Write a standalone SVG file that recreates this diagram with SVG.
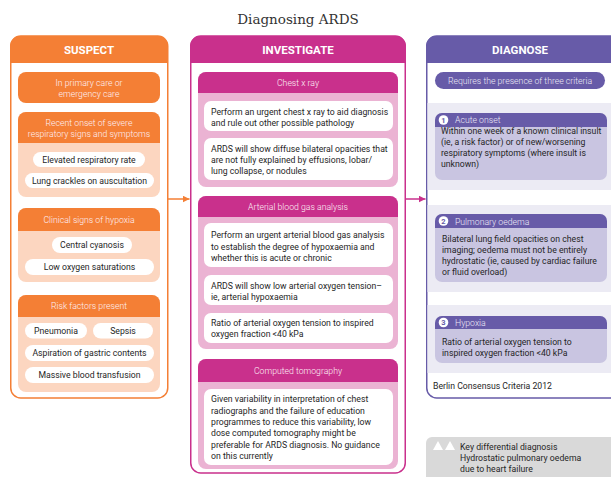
<svg xmlns="http://www.w3.org/2000/svg" width="611" height="477" viewBox="0 0 611 477">
<defs>
<style>
.t{font-family:Roboto,"Noto Sans",sans-serif;font-size:8.7px;fill:#262626}
.c{text-anchor:middle}
.hd{font-family:Roboto,"Noto Sans",sans-serif;font-size:11.5px;font-weight:bold;fill:#fff;text-anchor:middle}
.wt{font-family:Roboto,"Noto Sans",sans-serif;font-size:8.7px;fill:#fdf0f6;font-weight:300}
.pill{fill:#fff}
</style>
<marker id="ao" viewBox="0 0 10 10" refX="10" refY="5" markerWidth="7" markerHeight="7" markerUnits="userSpaceOnUse" orient="auto"><path d="M0,0L10,5L0,10z" fill="#f47f35"/></marker>
<marker id="ap" viewBox="0 0 10 10" refX="10" refY="5" markerWidth="7" markerHeight="7" markerUnits="userSpaceOnUse" orient="auto"><path d="M0,0L10,5L0,10z" fill="#c9308c"/></marker>
</defs>
<rect width="611" height="477" fill="#fff"/>
<text x="298" y="24" font-family="'DejaVu Serif',serif" font-size="13.5" fill="#333" text-anchor="middle">Diagnosing ARDS</text>

<g id="suspect">
<rect x="10.75" y="36" width="157" height="362" rx="10" fill="#fff" stroke="#f47f35" stroke-width="1.5"/>
<path d="M10,63V46a10,10 0 0 1 10,-10H158a10,10 0 0 1 10,10V63z" fill="#f47f35"/>
<text class="hd" x="89" y="53.5">SUSPECT</text>
<rect x="18" y="72" width="142" height="31" rx="8" fill="#f47f35"/>
<text class="wt c" x="89" y="86">In primary care  or</text>
<text class="wt c" x="89" y="96.5">emergency care</text>
<rect x="18" y="112" width="142" height="85" rx="8" fill="#fcd6c0"/>
<path d="M18,143V120a8,8 0 0 1 8,-8H152a8,8 0 0 1 8,8V143z" fill="#f47f35"/>
<text class="wt c" x="89" y="125.5">Recent onset of severe</text>
<text class="wt c" x="89" y="136.5">respiratory signs and symptoms</text>
<rect class="pill" x="33" y="152" width="112" height="15" rx="7.5"/>
<text class="t c" x="89" y="162.5">Elevated respiratory rate</text>
<rect class="pill" x="25" y="173" width="129" height="15" rx="7.5"/>
<text class="t c" x="89.5" y="183.5">Lung crackles on auscultation</text>
<rect x="18" y="208" width="142" height="74" rx="8" fill="#fcd6c0"/>
<path d="M18,231V216a8,8 0 0 1 8,-8H152a8,8 0 0 1 8,8V231z" fill="#f47f35"/>
<text class="wt c" x="89" y="222.5">Clinical signs of hypoxia</text>
<rect class="pill" x="52" y="237" width="80" height="16" rx="8"/>
<text class="t c" x="92" y="248">Central cyanosis</text>
<rect class="pill" x="25" y="259" width="129" height="16" rx="8"/>
<text class="t c" x="89.5" y="270">Low oxygen saturations</text>
<rect x="18" y="295" width="142" height="97" rx="8" fill="#fcd6c0"/>
<path d="M18,317V303a8,8 0 0 1 8,-8H152a8,8 0 0 1 8,8V317z" fill="#f47f35"/>
<text class="wt c" x="89" y="309">Risk factors present</text>
<rect class="pill" x="25" y="323" width="62" height="15.5" rx="7.75"/>
<text class="t c" x="56" y="333.5">Pneumonia</text>
<rect class="pill" x="93" y="323" width="60" height="15.5" rx="7.75"/>
<text class="t c" x="123" y="333.5">Sepsis</text>
<rect class="pill" x="25" y="345" width="129" height="16" rx="8"/>
<text class="t c" x="89.5" y="356">Aspiration of gastric contents</text>
<rect class="pill" x="25" y="367" width="129" height="16" rx="8"/>
<text class="t c" x="89.5" y="378">Massive blood transfusion</text>
</g>

<g id="investigate">
<rect x="190.75" y="36" width="214.5" height="437" rx="10" fill="#fff" stroke="#c9308c" stroke-width="1.5"/>
<path d="M190,63V46a10,10 0 0 1 10,-10H396a10,10 0 0 1 10,10V63z" fill="#c9308c"/>
<text class="hd" x="298" y="53.5">INVESTIGATE</text>
<rect x="198" y="72" width="200" height="115" rx="8" fill="#ebb3d3"/>
<path d="M198,93V80a8,8 0 0 1 8,-8H390a8,8 0 0 1 8,8V93z" fill="#c9308c"/>
<text class="wt c" x="298" y="86">Chest x ray</text>
<rect class="pill" x="204" y="101" width="189" height="30" rx="7"/>
<text class="t" x="211" y="115">Perform an urgent chest x ray to aid diagnosis</text>
<text class="t" x="211" y="125.5">and rule out other possible pathology</text>
<rect class="pill" x="204" y="138" width="189" height="42" rx="7"/>
<text class="t" x="211" y="152">ARDS will show diffuse bilateral opacities that</text>
<text class="t" x="211" y="163">are not fully explained by effusions, lobar/</text>
<text class="t" x="211" y="174">lung collapse, or nodules</text>
<rect x="198" y="196" width="200" height="153" rx="8" fill="#ebb3d3"/>
<path d="M198,217V204a8,8 0 0 1 8,-8H390a8,8 0 0 1 8,8V217z" fill="#c9308c"/>
<text class="wt c" x="298" y="210">Arterial blood gas analysis</text>
<rect class="pill" x="204" y="223" width="189" height="44" rx="7"/>
<text class="t" x="211" y="238">Perform an urgent arterial blood gas analysis</text>
<text class="t" x="211" y="249.5">to establish the degree of hypoxaemia and</text>
<text class="t" x="211" y="261">whether this is acute or chronic</text>
<rect class="pill" x="204" y="275" width="189" height="30" rx="7"/>
<text class="t" x="211" y="288.5">ARDS will show low arterial oxygen tension–</text>
<text class="t" x="211" y="300">ie, arterial hypoxaemia</text>
<rect class="pill" x="204" y="313" width="189" height="30" rx="7"/>
<text class="t" x="211" y="326">Ratio of arterial oxygen tension to inspired</text>
<text class="t" x="211" y="337">oxygen fraction &lt;40 kPa</text>
<rect x="198" y="359" width="200" height="110" rx="8" fill="#ebb3d3"/>
<path d="M198,382V367a8,8 0 0 1 8,-8H390a8,8 0 0 1 8,8V382z" fill="#c9308c"/>
<text class="wt c" x="298" y="374">Computed tomography</text>
<rect class="pill" x="204" y="389" width="189" height="76" rx="7"/>
<text class="t" x="211" y="402">Given variability in interpretation of chest</text>
<text class="t" x="211" y="413.5">radiographs and the failure of education</text>
<text class="t" x="211" y="425">programmes to reduce this variability, low</text>
<text class="t" x="211" y="436">dose computed tomography might be</text>
<text class="t" x="211" y="447.5">preferable for ARDS diagnosis.  No guidance</text>
<text class="t" x="211" y="459">on this currently</text>
</g>

<g id="diagnose">
<rect x="426.75" y="36" width="200" height="362" rx="10" fill="#fff" stroke="#675ba8" stroke-width="1.5"/>
<path d="M426,63V46a10,10 0 0 1 10,-10H627V63z" fill="#675ba8"/>
<text class="hd" x="520" y="53.5">DIAGNOSE</text>
<rect x="435" y="72" width="170" height="17" rx="8.5" fill="#675ba8"/>
<text class="wt c" x="520" y="83.5" style="fill:#ece9f6">Requires the presence of three criteria</text>
<rect x="427.5" y="103" width="184" height="87" fill="#ecebf4"/>
<rect x="427.5" y="205" width="184" height="87" fill="#ecebf4"/>
<rect x="427.5" y="305" width="184" height="68" fill="#ecebf4"/>
<rect x="435" y="113" width="172" height="67" rx="7" fill="#c9c5e1"/>
<path d="M435,127V120a7,7 0 0 1 7,-7H600a7,7 0 0 1 7,7V127z" fill="#675ba8"/>
<circle cx="443.5" cy="120" r="4.8" fill="#fff"/>
<text x="443.5" y="122.6" font-family="Roboto,sans-serif" font-size="7.5" font-weight="bold" fill="#675ba8" text-anchor="middle">1</text>
<text class="wt" x="455" y="123" style="fill:#ece9f6">Acute onset</text>
<text class="t" x="441" y="134">Within one week of a known clinical insult</text>
<text class="t" x="441" y="145">(ie, a risk factor) or of new/worsening</text>
<text class="t" x="441" y="156">respiratory symptoms (where insult is</text>
<text class="t" x="441" y="167">unknown)</text>
<rect x="435" y="214" width="172" height="68" rx="7" fill="#c9c5e1"/>
<path d="M435,228V221a7,7 0 0 1 7,-7H600a7,7 0 0 1 7,7V228z" fill="#675ba8"/>
<circle cx="443.5" cy="221" r="4.8" fill="#fff"/>
<text x="443.5" y="223.6" font-family="Roboto,sans-serif" font-size="7.5" font-weight="bold" fill="#675ba8" text-anchor="middle">2</text>
<text class="wt" x="455" y="224.5" style="fill:#ece9f6">Pulmonary oedema</text>
<text class="t" x="442" y="242">Bilateral lung field opacities on chest</text>
<text class="t" x="442" y="253">imaging; oedema must not be entirely</text>
<text class="t" x="442" y="264">hydrostatic (ie, caused by cardiac failure</text>
<text class="t" x="442" y="275">or fluid overload)</text>
<rect x="435" y="316" width="172" height="47" rx="7" fill="#c9c5e1"/>
<path d="M435,329V323a7,7 0 0 1 7,-7H600a7,7 0 0 1 7,7V329z" fill="#675ba8"/>
<circle cx="443.5" cy="322.5" r="4.8" fill="#fff"/>
<text x="443.5" y="325.1" font-family="Roboto,sans-serif" font-size="7.5" font-weight="bold" fill="#675ba8" text-anchor="middle">3</text>
<text class="wt" x="455" y="326" style="fill:#ece9f6">Hypoxia</text>
<text class="t" x="442" y="345">Ratio of arterial oxygen tension to</text>
<text class="t" x="442" y="356">inspired oxygen fraction &lt;40 kPa</text>
<text class="t" x="433" y="389">Berlin Consensus Criteria 2012</text>
</g>

<g id="differential">
<rect x="426" y="437" width="200" height="50" rx="6" fill="#d9d9d9"/>
<path d="M433,450L438,441L443,450z" fill="#fff"/>
<path d="M445,450L450,441L455,450z" fill="#fff"/>
<text class="t" x="460" y="450">Key differential diagnosis</text>
<text class="t" x="460" y="461">Hydrostatic pulmonary oedema</text>
<text class="t" x="460" y="472">due to heart failure</text>
</g>

<g id="connectors" stroke-width="1.5" fill="none">
<line x1="168" y1="199" x2="189.5" y2="199" stroke="#f47f35" marker-end="url(#ao)"/>
<line x1="405.5" y1="199" x2="425.5" y2="199" stroke="#c9308c" marker-end="url(#ap)"/>
</g>
</svg>
